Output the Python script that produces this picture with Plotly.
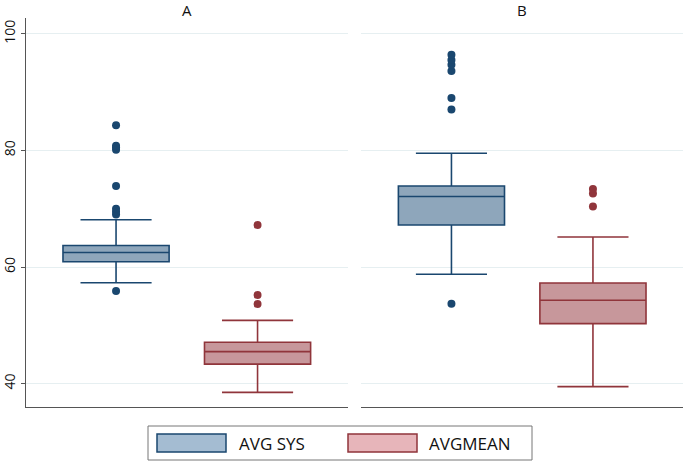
import plotly.graph_objects as go
from plotly.subplots import make_subplots

# box stats: [SYS, MEAN] per panel
panels = ["A", "B"]
series = ["AVG SYS", "AVGMEAN"]
positions = [0.28, 0.72]

q1 = {"A": [60.9, 43.35], "B": [67.2, 50.3]}
median = {"A": [62.5, 45.5], "B": [72.1, 54.3]}
q3 = {"A": [63.7, 47.1], "B": [73.9, 57.25]}
lower = {"A": [57.3, 38.5], "B": [58.75, 39.5]}
upper = {"A": [68.1, 50.85], "B": [79.5, 65.15]}

outliers = {
    "A": [[55.9, 69.0, 69.5, 70.0, 73.9, 80.1, 80.5, 80.8, 84.3],
          [53.65, 55.2, 67.2]],
    "B": [[53.7, 87.0, 89.0, 93.6, 94.7, 95.5, 96.4],
          [70.4, 72.6, 73.4]],
}

yticks = [40, 60, 80, 100]

line_cols = ["#1a476f", "#90353b"]
fill_cols = ["#8ea6bb", "#c7979b"]
legend_fill = ["#a4bcd2", "#e7b5ba"]

W, H = 685, 461
L, R, T, B = 26, 2, 18, 54

fig = make_subplots(rows=1, cols=2, shared_yaxes=True, horizontal_spacing=0.021)

for c, p in enumerate(panels, start=1):
    for i in range(2):
        fig.add_trace(go.Box(
            x=[positions[i]], q1=[q1[p][i]], median=[median[p][i]], q3=[q3[p][i]],
            lowerfence=[lower[p][i]], upperfence=[upper[p][i]],
            width=0.33, whiskerwidth=0.67, boxpoints=False,
            fillcolor=fill_cols[i], line=dict(color=line_cols[i], width=1.6),
            showlegend=False, hoverinfo="skip",
        ), row=1, col=c)
        fig.add_trace(go.Scatter(
            x=[positions[i]] * len(outliers[p][i]), y=outliers[p][i], mode="markers",
            marker=dict(color=line_cols[i], size=8), showlegend=False,
        ), row=1, col=c)

fig.update_xaxes(range=[0, 1], showticklabels=False, ticks="", showgrid=False,
                 zeroline=False, showline=True, linecolor="#555", linewidth=1.2)
fig.update_yaxes(range=[36.0, 102.7], tickvals=yticks, showgrid=True,
                 gridcolor="#e6eff1", gridwidth=1, zeroline=False)
fig.update_yaxes(showline=True, linecolor="#555", linewidth=1.2, ticks="outside",
                 ticklen=4, tickcolor="#555", tickangle=-90,
                 tickfont=dict(size=14, color="#111", family="Open Sans"), row=1, col=1)
fig.update_yaxes(showline=False, ticks="", showticklabels=False, row=1, col=2)


def px_x(px):
    return (px - L) / (W - L - R)


def px_y(py):
    return (H - B - py) / (H - T - B)


# panel titles
dom_a = fig.layout.xaxis.domain
dom_b = fig.layout.xaxis2.domain
for p, dom in zip(panels, [dom_a, dom_b]):
    fig.add_annotation(text=p, x=(dom[0] + dom[1]) / 2, y=px_y(10.5), xref="paper", yref="paper",
                       xanchor="center", yanchor="middle", showarrow=False,
                       font=dict(size=15, color="#111", family="Open Sans"))

# legend drawn by hand, Stata-style
shapes = [dict(type="rect", xref="paper", yref="paper", x0=px_x(148), x1=px_x(532),
               y0=px_y(426), y1=px_y(460), line=dict(color="#777", width=1), fillcolor="white")]
rect_x = [157, 348]
text_x = [237, 427]
for i in range(2):
    shapes.append(dict(type="rect", xref="paper", yref="paper", x0=px_x(rect_x[i]),
                       x1=px_x(rect_x[i] + 69), y0=px_y(434), y1=px_y(452),
                       line=dict(color=line_cols[i], width=1.5), fillcolor=legend_fill[i]))
    fig.add_annotation(text=series[i], x=px_x(text_x[i]), y=px_y(443), xref="paper",
                       yref="paper", xanchor="left", yanchor="middle", showarrow=False,
                       font=dict(size=17, color="#111", family="Open Sans"))

fig.update_layout(
    width=W, height=H, margin=dict(l=L, r=R, t=T, b=B, autoexpand=False),
    plot_bgcolor="white", paper_bgcolor="white", shapes=shapes, showlegend=False,
)

# drop the browser's default body margin so the figure sits at the window corner
fig.write_html("out.html", config={"displayModeBar": False},
               post_script="document.body.style.margin='0';")
